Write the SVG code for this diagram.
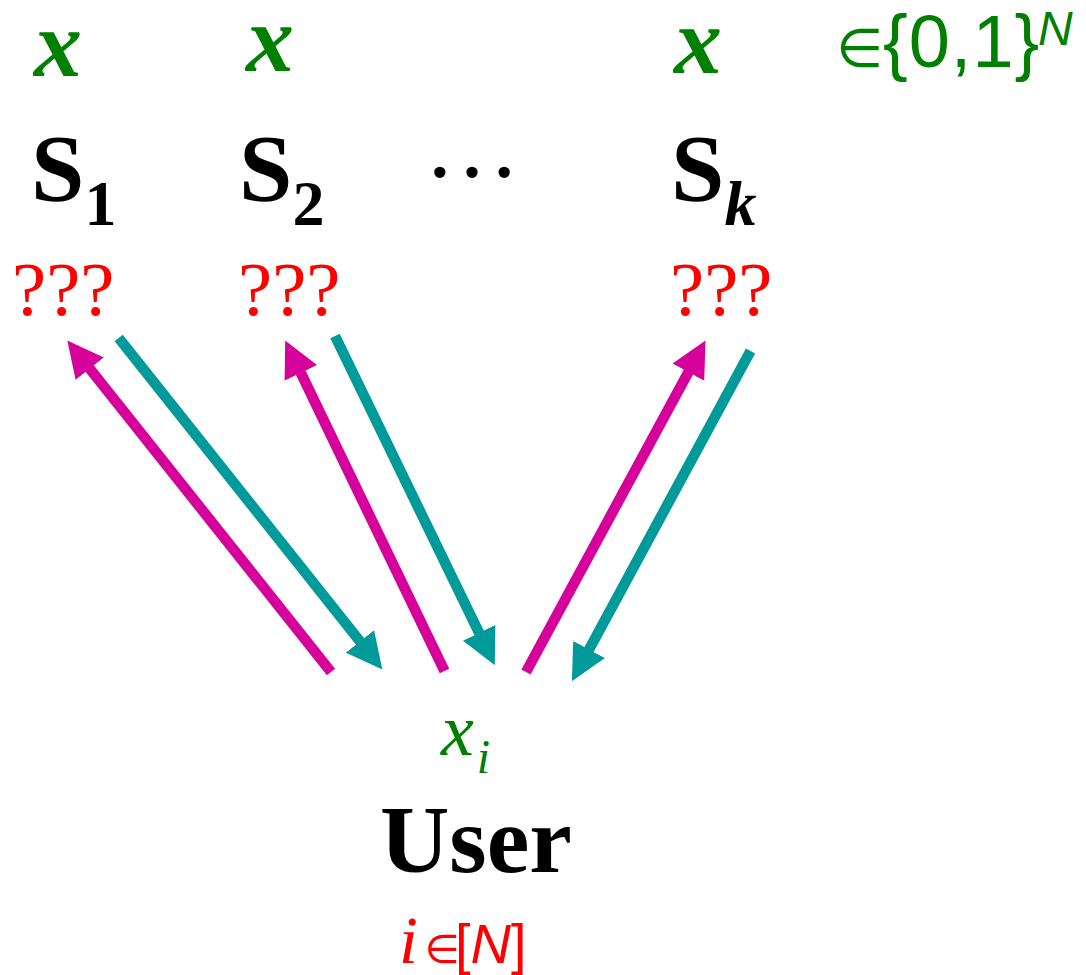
<svg xmlns="http://www.w3.org/2000/svg" width="1086" height="975" viewBox="0 0 1086 975">
<style>
.xv{font-family:"Liberation Serif","Times New Roman",serif;font-weight:bold;font-style:italic;font-size:96px;fill:#008000;text-anchor:middle}
.sn{font-family:"Liberation Serif","Times New Roman",serif;font-weight:bold;font-size:96px;fill:#000}
.sub{font-size:64px}
.q{font-family:"Liberation Serif","Times New Roman",serif;font-size:77px;fill:#ff0000}
.set{font-family:"Liberation Sans",Arial,sans-serif;font-size:74px;fill:#008000}
.el{font-family:"DejaVu Sans",sans-serif}
.mag{fill:none;stroke:#d6009a;stroke-width:10.5;stroke-linecap:butt}
.teal{fill:none;stroke:#009a9a;stroke-width:10.5;stroke-linecap:butt}
</style>
<defs>
<marker id="hm" markerUnits="userSpaceOnUse" markerWidth="37" markerHeight="37" viewBox="0 -18.5 37 37" refX="0.5" refY="0" orient="auto"><path d="M0,-18 L36,0 L0,18 Z" fill="#d6009a"/></marker>
<marker id="ht" markerUnits="userSpaceOnUse" markerWidth="37" markerHeight="37" viewBox="0 -18.5 37 37" refX="0.5" refY="0" orient="auto"><path d="M0,-18 L36,0 L0,18 Z" fill="#009a9a"/></marker>
</defs>
<g id="connectors">
<path class="mag" d="M331,672 L89.4,368.2" marker-end="url(#hm)"/>
<path class="teal" d="M118.7,338 L360.3,641.8" marker-end="url(#ht)"/>
<path class="mag" d="M444.5,671 L300.6,372.4" marker-end="url(#hm)"/>
<path class="teal" d="M335,336 L479.3,633.3" marker-end="url(#ht)"/>
<path class="mag" d="M526,672 L688.6,371.7" marker-end="url(#hm)"/>
<path class="teal" d="M750.5,351 L588.8,650" marker-end="url(#ht)"/>
</g>
<g id="server1">
<text class="xv" x="58" y="76">x</text>
<text class="sn" x="31" y="201">S<tspan class="sub" dy="24">1</tspan></text>
<text class="q" x="12" y="315">???</text>
</g>
<g id="server2">
<text class="xv" x="270" y="71">x</text>
<text class="sn" x="239" y="201">S<tspan class="sub" dy="24">2</tspan></text>
<text class="q" x="238" y="315">???</text>
</g>
<g id="dots">
<text class="sn" style="font-weight:normal" x="424" y="177">…</text>
</g>
<g id="serverk">
<text class="xv" x="698" y="73">x</text>
<text class="sn" x="671" y="201">S<tspan class="sub" style="font-style:italic" dy="24">k</tspan></text>
<text class="q" x="670" y="315">???</text>
</g>
<g id="domain">
<text class="set" y="67"><tspan class="el" x="836" font-size="54">∈</tspan><tspan x="883" letter-spacing="1">{0,1}</tspan><tspan x="1038" dy="-22" font-size="48" font-style="italic">N</tspan></text>
</g>
<g id="user">
<text x="441" y="755" style="font-family:'Liberation Serif','Times New Roman',serif;font-style:italic;font-size:74px;fill:#008000">x<tspan dx="3" dy="18" font-size="48">i</tspan></text>
<text class="sn" x="380" y="872">User</text>
<text y="963" style="font-family:'Liberation Sans',Arial,sans-serif;font-size:56px;fill:#ff0000"><tspan x="399" style="font-family:'Liberation Serif','Times New Roman',serif;font-style:italic;font-size:68px">i</tspan><tspan class="el" x="425" font-size="40">∈</tspan><tspan x="455">[</tspan><tspan font-style="italic">N</tspan><tspan>]</tspan></text>
</g>
</svg>
